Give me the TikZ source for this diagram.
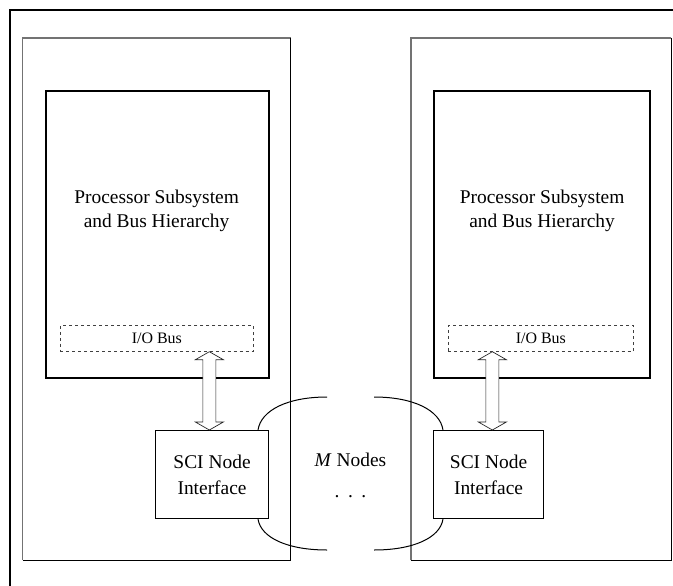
\documentclass[tikz,border=0pt]{standalone}
\usepackage{fontspec}
\setmainfont{Liberation Serif}
\usetikzlibrary{calc}
\begin{document}
\begin{tikzpicture}[x=1bp,y=-1bp,
  panelbox/.style={draw=none,fill=none,anchor=north west,inner sep=0},
  procbox/.style={draw=black,line width=2.2bp,anchor=north west,inner sep=0},
  iobox/.style={draw=black!75,dashed,line width=0.7bp,anchor=north west,inner sep=0,
    font=\fontsize{16}{19}\selectfont},
  scibox/.style={draw=black,line width=1.1bp,anchor=north west,inner sep=0,
    align=center,font=\fontsize{19.5}{26}\selectfont},
  proclabel/.style={align=center,font=\fontsize{19.5}{24}\selectfont,inner sep=0},
  textlabel/.style={font=\fontsize{19.5}{24}\selectfont,inner sep=0},
  busarrow/.style={draw=black!85,line width=0.7bp,fill=white,line join=miter},
  ring/.style={draw=black,line width=1bp},
  panelgray/.style={draw=black!55,line width=1.2bp},
  panelblack/.style={draw=black,line width=0.9bp},
  frame/.style={draw=black,line width=2.2bp}]
\useasboundingbox (0,0) rectangle (673,586);
\fill[white] (0,0) rectangle (673,586);
% outer frame (top and left visible)
\coordinate (ftl) at (10,10);
\draw[frame] (ftl |- 0,600) -- (ftl) -- (690,10);
% panels
\node[panelbox,minimum width=268bp,minimum height=522bp] (p1) at (22.5,38) {};
\node[panelbox,minimum width=260bp,minimum height=522bp] (p2) at (411,38) {};
\foreach \p in {p1,p2}{
  \draw[panelgray] (\p.south west) -- (\p.north west) -- (\p.north east);
  \draw[panelblack] (\p.north east) -- (\p.south east) -- (\p.south west);
}
% processor boxes
\node[procbox,minimum width=223bp,minimum height=287bp] (b1) at (45,90) {};
\node[procbox,minimum width=216bp,minimum height=287bp] (b2) at (433,90) {};
\node[proclabel] (l1) at ($(b1.north)+(-1,121)$) {Processor Subsystem\\and Bus Hierarchy};
\node[proclabel] (l2) at ($(b2.north)+(0,121)$) {Processor Subsystem\\and Bus Hierarchy};
% I/O bus boxes
\node[iobox,minimum width=193bp,minimum height=26bp] (io1) at (60,325) {I/O Bus};
\node[iobox,minimum width=185bp,minimum height=26bp] (io2) at (448,325) {I/O Bus};
% SCI node interfaces
\node[scibox,minimum width=113bp,minimum height=88bp] (s1) at (155,430) {SCI Node\\Interface};
\node[scibox,minimum width=110bp,minimum height=88bp] (s2) at (433,430) {SCI Node\\Interface};
% fat double arrows
\path (io1.south) ++(52.5,0) coordinate (t1);
\coordinate (u1) at (t1 |- s1.north);
\path (io2.south) ++(-48.5,0) coordinate (t2);
\coordinate (u2) at (t2 |- s2.north);
\foreach \t/\u in {t1/u1,t2/u2}{
  \draw[busarrow] let \p1=(\t), \p2=(\u) in
    (\x1,\y1) -- (\x1+14bp,\y1-8bp) -- (\x1+6.5bp,\y1-8bp) -- (\x1+6.5bp,\y2+8bp)
    -- (\x1+14bp,\y2+8bp) -- (\x1,\y2) -- (\x1-14bp,\y2+8bp) -- (\x1-6.5bp,\y2+8bp)
    -- (\x1-6.5bp,\y1-8bp) -- (\x1-14bp,\y1-8bp) -- cycle;
}
% M nodes ring
\coordinate (r1a) at (327,397);
\coordinate (r1b) at (327,550);
\coordinate (r2a) at (374,397);
\coordinate (r2b) at (374,550);
\draw[ring] (r1a) .. controls (288,397) and (261,410) .. (s1.north east -| 258,0);
\draw[ring] (s1.south east -| 258,0) .. controls (261,538) and (288,550) .. (r1b);
\draw[ring] (r2a) .. controls (413,397) and (440,410) .. (s2.north west -| 443,0);
\draw[ring] (s2.south west -| 443,0) .. controls (440,538) and (413,550) .. (r2b);
\node[textlabel,anchor=base] (mn) at (350.5,466) {\textit{M} Nodes};
\node[textlabel,anchor=base] (dots) at (350.5,497) {.\hspace{8.5bp}.\hspace{8.5bp}.};
\end{tikzpicture}
\end{document}
